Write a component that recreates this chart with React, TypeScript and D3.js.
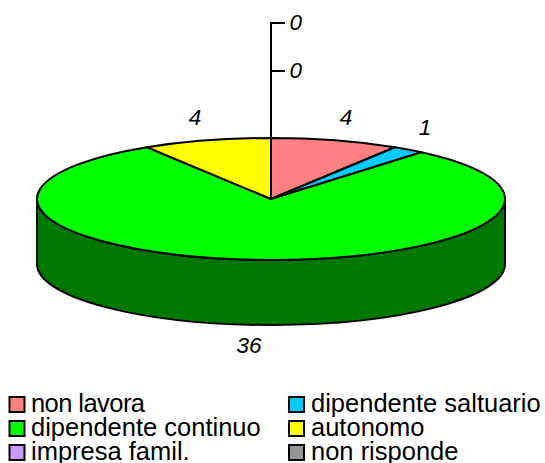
import React from "react";
import * as d3 from "d3";

const categories = ["non lavora", "dipendente saltuario", "dipendente continuo", "autonomo", "impresa famil.", "non risponde"];
const values = [4, 1, 36, 4, 0, 0];
const topColors = ["#ff8080", "#00ccff", "#00ff00", "#ffff00", "#cc99ff", "#969696"];
const wallColor = "#007800";
const axisTicks = [0, 1];
const axisLabels = ["0", "0"];
const dataLabels = ["4", "1", "36", "4"];
const labelPos: [number, number][] = [[346, 125], [425, 135], [249, 353], [195, 125]];
const legendTextLength: (number | undefined)[] = [114, undefined, undefined, undefined, undefined, undefined];

const cx = 271, cy = 199, rx = 234, ry = 61, depth = 65;

export default function App() {
  const arcs = d3.pie<number>().sort(null).value((d) => d)(values);
  const arc = d3.arc<any>().innerRadius(0).outerRadius(rx);
  const axisY = d3.scaleLinear().domain([0, 1]).range([71, 23]);
  const wall = `M${cx - rx},${cy}L${cx - rx},${cy + depth}A${rx},${ry} 0 0 0 ${cx + rx},${cy + depth}L${cx + rx},${cy}A${rx},${ry} 0 0 1 ${cx - rx},${cy}Z`;
  const legX = d3.scalePoint<number>().domain([0, 1]).range([9.5, 289]);
  const legY = d3.scalePoint<number>().domain([0, 1, 2]).range([397, 445]);
  return (
    <svg width={545} height={463} style={{ position: "absolute", left: 0, top: 0, background: "#fff" }}
      fontFamily="'Liberation Sans', Arial, sans-serif">
      <path d={wall} fill={wallColor} stroke="#000" strokeWidth={2} strokeLinejoin="round" />
      <g transform={`translate(${cx},${cy}) scale(1,${ry / rx})`}>
        {arcs.filter((a) => a.value > 0).map((a) => (
          <path key={a.index} d={arc(a) as string} fill={topColors[a.index]} stroke="#000" strokeWidth={2}
            vectorEffect="non-scaling-stroke" strokeLinejoin="round" />
        ))}
      </g>
      <line x1={cx} x2={cx} y1={axisY(1)} y2={cy - ry} stroke="#000" strokeWidth={2} />
      {axisTicks.map((t, i) => (
        <g key={t}>
          <line x1={cx - 1} x2={cx + 14} y1={axisY(t)} y2={axisY(t)} stroke="#000" strokeWidth={2} />
          <text x={289.5} y={axisY(t) + 6.5} fontSize={22.5} fontStyle="italic" fill="#000">{axisLabels[i]}</text>
        </g>
      ))}
      {dataLabels.map((l, i) => (
        <text key={i} x={labelPos[i][0]} y={labelPos[i][1]} textAnchor="middle" fontSize={22.5} fontStyle="italic" fill="#000">{l}</text>
      ))}
      {categories.map((c, i) => {
        const x = legX(i % 2)!;
        const y = legY(Math.floor(i / 2))!;
        return (
          <g key={c}>
            <rect x={x} y={y} width={15} height={15} fill={topColors[i]} stroke="#000" strokeWidth={2} />
            <text x={i % 2 ? 311 : 31} y={y + 14.5} fontSize={25.5} fill="#000"
              textLength={legendTextLength[i]} lengthAdjust="spacing">{c}</text>
          </g>
        );
      })}
    </svg>
  );
}
